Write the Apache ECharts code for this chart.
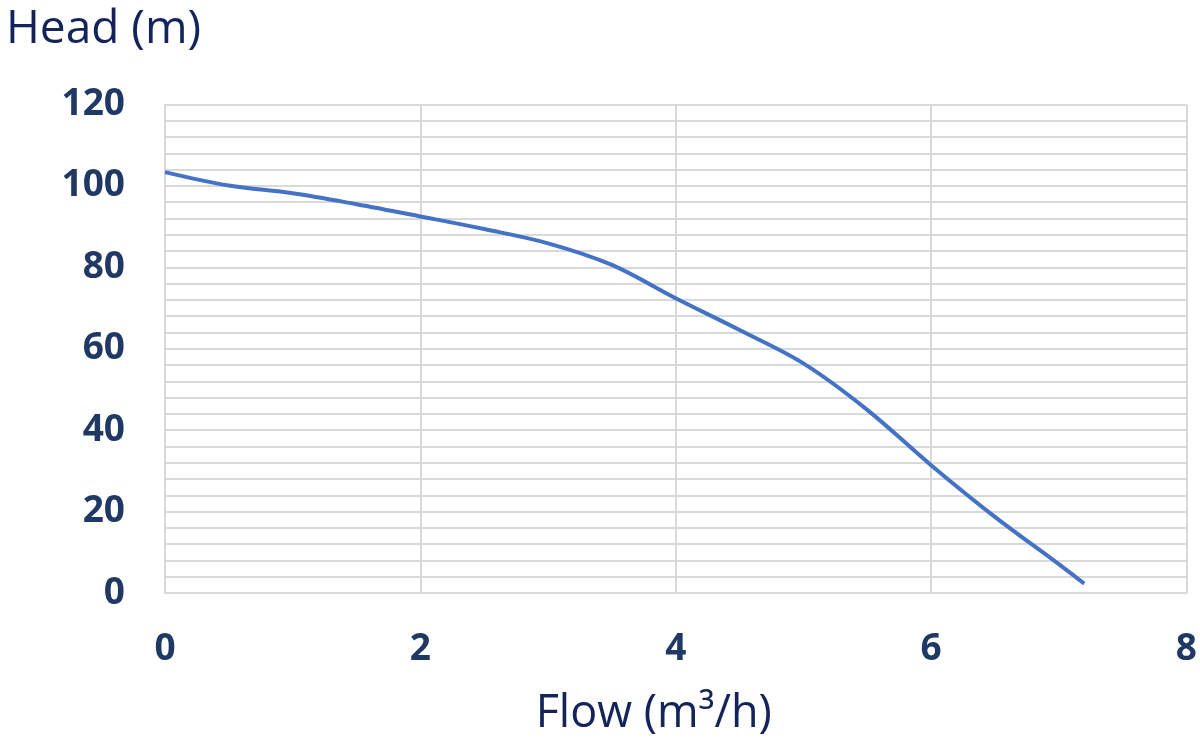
<!DOCTYPE html>
<html>
<head>
<meta charset="utf-8">
<script src="https://cdn.jsdelivr.net/npm/echarts@6/dist/echarts.min.js"></script>
<style>html,body{margin:0;padding:0;background:#fff}#c{width:1200px;height:742px}</style>
</head>
<body>
<div id="c"></div>
<script>
const flow = [0, 0.5, 1, 1.5, 2, 2.5, 3, 3.5, 4, 4.5, 5, 5.5, 6, 6.5, 7, 7.2];
const head = [103.4, 100.1, 98.2, 95.5, 92.5, 89.4, 85.9, 80.6, 72.4, 64.6, 56.4, 45.0, 31.4, 18.7, 7.1, 2.3];
const xTicks = [0, 2, 4, 6, 8];
const yTicks = [0, 20, 40, 60, 80, 100, 120];
const xTitle = 'Flow (m³/h)';
const yTitle = 'Head (m)';

const chart = echarts.init(document.getElementById('c'), null, {renderer: 'canvas'});
const gridColor = '#D9D9D9';
const labelColor = '#1F3864';
const titleColor = '#14245A';
chart.setOption({
  animation: false,
  grid: {left: 165, right: 13, top: 104.5, bottom: 149, containLabel: false},
  xAxis: {
    type: 'value', min: xTicks[0], max: xTicks[xTicks.length - 1], interval: 2,
    name: xTitle, nameLocation: 'middle', nameGap: 99,
    nameTextStyle: {fontFamily: 'Open Sans', fontSize: 45, color: titleColor, padding: [0, 44, 0, 0]},
    axisLine: {show: true, lineStyle: {color: gridColor, width: 2}},
    axisTick: {show: false},
    axisLabel: {margin: 38, fontFamily: 'Open Sans', fontWeight: 'bold', fontSize: 37, color: labelColor},
    splitLine: {show: true, lineStyle: {color: gridColor, width: 2}}
  },
  yAxis: {
    type: 'value', min: yTicks[0], max: yTicks[yTicks.length - 1], interval: 20,
    name: yTitle, nameLocation: 'end', nameGap: 52,
    nameTextStyle: {fontFamily: 'Open Sans', fontSize: 46, color: titleColor, padding: [0, 123, 0, 0]},
    axisLine: {show: true, lineStyle: {color: gridColor, width: 2}},
    axisTick: {show: false},
    axisLabel: {margin: 40, fontFamily: 'Open Sans', fontWeight: 'bold', fontSize: 37, color: labelColor},
    splitLine: {show: true, lineStyle: {color: gridColor, width: 2}},
    minorTick: {show: false, splitNumber: 5},
    minorSplitLine: {show: true, lineStyle: {color: gridColor, width: 2}}
  },
  series: [{
    type: 'line',
    data: flow.map((f, i) => [f, head[i]]),
    smooth: 0.35,
    showSymbol: false,
    lineStyle: {color: '#4472C4', width: 4},
    itemStyle: {color: '#4472C4'}
  }]
});
</script>
</body>
</html>
